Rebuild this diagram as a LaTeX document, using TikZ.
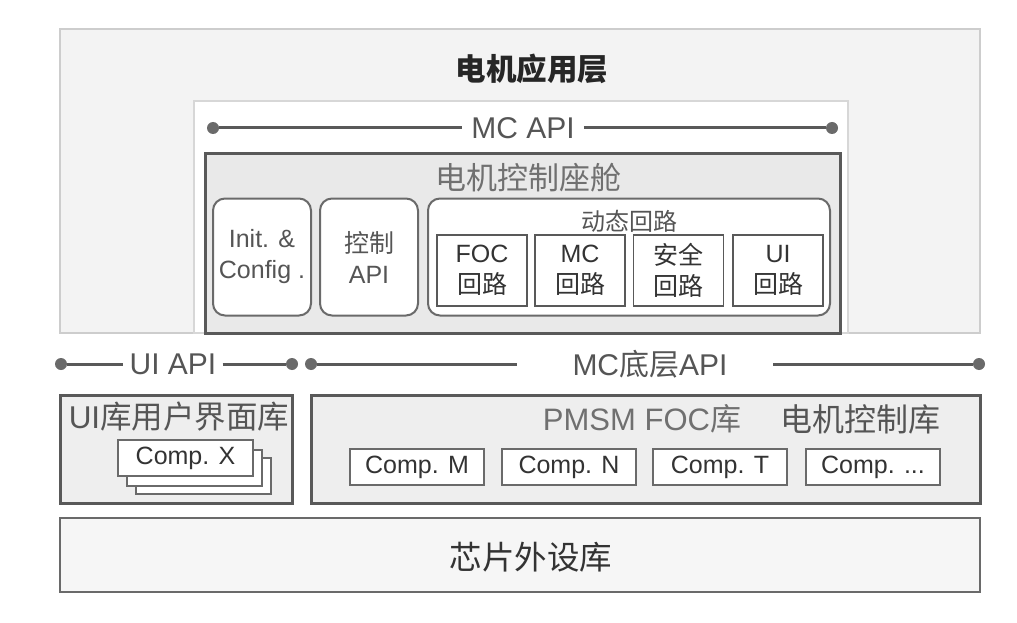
\documentclass[tikz,border=0pt]{standalone}
\usepackage{fontspec}
\setmainfont{Liberation Sans}
\newfontfamily\cjk{Noto Sans CJK SC}
\usetikzlibrary{positioning}

\definecolor{appfill}{HTML}{F3F3F3}
\definecolor{appline}{HTML}{CDCDCD}
\definecolor{cockfill}{HTML}{E9E9E9}
\definecolor{darkline}{HTML}{595959}
\definecolor{midline}{HTML}{6A6A6A}
\definecolor{libfill}{HTML}{EEEEEE}
\definecolor{chipfill}{HTML}{F6F6F6}
\definecolor{txtdark}{HTML}{333333}
\definecolor{txtmid}{HTML}{555555}
\definecolor{txtlight}{HTML}{707070}

\tikzset{
	layer/.style={draw=#1, line width=2pt, inner sep=0pt},
	roundbox/.style={draw=midline, fill=white, line width=2pt, rounded corners=12pt, minimum width=98pt, minimum height=117pt, inner sep=0pt},
	loopbox/.style={draw=darkline, fill=white, line width=1.5pt, minimum width=90pt, minimum height=71pt, inner sep=0pt, align=center, text=txtdark},
	compbox/.style={draw=midline, fill=white, line width=1.2pt, minimum width=134pt, minimum height=36pt, inner sep=0pt, text=txtdark},
	dot/.style={circle, fill=midline, minimum size=12pt, inner sep=0pt},
	apiline/.style={draw=darkline, line width=3pt},
	apitext/.style={font=\fontsize{30}{34}\selectfont, text=txtmid, inner sep=0pt},
}

\newcommand{\loopbox}[4]{
	\node[loopbox] (#1) at (#2, 270.5) {#3\\{\cjk #4}};
}
\newcommand{\compbox}[3]{
	\node[compbox] (#1) at (#2, 467) {Comp. #3};
}

\begin{document}
\begin{tikzpicture}[x=1pt, y=-1pt, font=\fontsize{25}{31}\selectfont, semithick]
	\fill[white] (0,0) rectangle (1017,623);
	\useasboundingbox (0,0) rectangle (1017,623);

	\node[layer=appline, fill=appfill, minimum width=920pt, minimum height=304pt] (app) at (520,181) {};
	\node[font=\fontsize{30.5}{34}\selectfont\cjk\bfseries, text=black!85] (apptitle) at (532,69) {电机应用层};
	\node[layer=appline!80, fill=white, minimum width=654pt, minimum height=232pt] (apibox) at (521,217) {};

	\node[dot] (mcapiL) at (213,128) {};
	\node[dot] (mcapiR) at (832,128) {};
	\node[apitext, inner xsep=9pt] (mcapi) at (523,128) {MC API};
	\draw[apiline] (mcapiL) -- (mcapi);
	\draw[apiline] (mcapi) -- (mcapiR);

	\node[layer=darkline, line width=3pt, fill=cockfill, minimum width=635pt, minimum height=180pt] (cockpit) at (522.5,243) {};
	\node[font=\fontsize{31}{34}\selectfont\cjk, text=txtlight] (cocktitle) at (528,178) {电机控制座舱};

	\node[roundbox, align=center, text=txtmid] (init) at (262,257) {Init. \&\\Config .};
	\node[roundbox, align=center, text=txtmid] (ctrlapi) at (369,257) {{\cjk 控制}\\API};
	\node[roundbox, minimum width=402pt] (dynloop) at (629,257) {};
	\node[font=\fontsize{24}{28}\selectfont\cjk, text=txtmid] (dyntitle) at (629,221) {动态回路};
	\loopbox{focloop}{482}{FOC}{回路}
	\loopbox{mcloop}{580}{MC}{回路}
	\loopbox{safeloop}{678.5}{{\cjk 安全}}{回路}
	\loopbox{uiloop}{778}{UI}{回路}

	\node[dot] (uiapiL) at (61,364) {};
	\node[dot] (uiapiR) at (292,364) {};
	\node[apitext, inner xsep=6pt] (uiapi) at (173,364) {UI API};
	\draw[apiline] (uiapiL) -- (uiapi);
	\draw[apiline] (uiapi) -- (uiapiR);

	\node[dot] (lowapiL) at (311,364) {};
	\node[dot] (lowapiR) at (979,364) {};
	\node[apitext] (lowapi) at (650,364) {MC{\cjk 底层}API};
	\coordinate (lowgapL) at (517,364);
	\coordinate (lowgapR) at (773,364);
	\draw[apiline] (lowapiL) -- (lowgapL);
	\draw[apiline] (lowgapR) -- (lowapiR);

	\node[layer=darkline, line width=3pt, fill=libfill, minimum width=232pt, minimum height=108pt] (uilib) at (176,449) {};
	\node[font=\fontsize{31.5}{34}\selectfont, text=txtmid, inner sep=0pt] (uilibtitle) at (179,417) {UI{\cjk 库用户界面库}};
	\node[compbox, minimum width=135pt] (compx3) at (203.5,476) {};
	\node[compbox, minimum width=135pt] (compx2) at (194.5,468) {};
	\node[compbox, minimum width=135pt] (compx) at (185.5,458) {Comp. X};

	\node[layer=darkline, line width=3pt, fill=libfill, minimum width=669pt, minimum height=108pt] (mclib) at (645.5,449) {};
	\node[font=\fontsize{31}{34}\selectfont, text=txtlight, inner sep=0pt] (pmsm) at (642,419) {PMSM FOC{\cjk 库}};
	\node[font=\fontsize{32}{34}\selectfont\cjk, text=txtmid, inner sep=0pt] (mctitle) at (860,419) {电机控制库};
	\compbox{compm}{417}{M}
	\compbox{compn}{569}{N}
	\compbox{compt}{720}{T}
	\compbox{compmore}{873}{...}

	\node[layer=midline, fill=chipfill, minimum width=920pt, minimum height=74pt] (chip) at (520,555) {};
	\node[font=\fontsize{32.5}{36}\selectfont\cjk, text=txtdark] (chiptitle) at (531,557) {芯片外设库};
\end{tikzpicture}
\end{document}
